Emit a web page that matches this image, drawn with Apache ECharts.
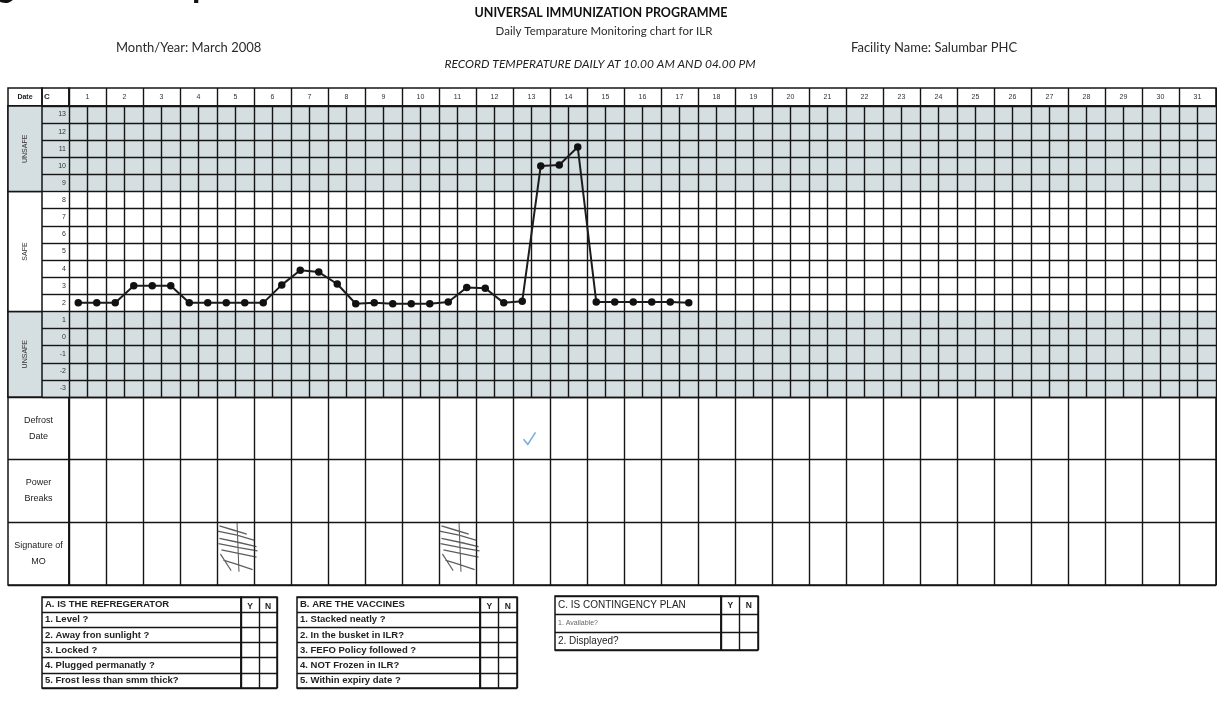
<!DOCTYPE html>
<html><head><meta charset="utf-8">
<script src="https://cdn.jsdelivr.net/npm/echarts@6/dist/echarts.min.js"></script>
<style>html,body{margin:0;padding:0;background:#fff}#c{width:1217px;height:711px}</style>
</head><body><div id="c"></div>
<script>
// ---------------- data ----------------
const DAYS = ['1','2','3','4','5','6','7','8','9','10','11','12','13','14','15','16','17','18','19','20','21','22','23','24','25','26','27','28','29','30','31'];
const TEMP_ROWS = ['-3','-2','-1','0','1','2','3','4','5','6','7','8','9','10','11','12','13'];
// readings per day (10.00 AM and 04.00 PM), days 1..17
const TEMP_AM = [2, 2, 3, 2, 2, 2, 3.9, 3.1, 2, 1.95, 2.05, 2.85, 2.1, 10.05, 2.05, 2.05, 2.05];
const TEMP_PM = [2, 3, 3, 2, 2, 3.05, 3.8, 1.95, 1.95, 1.95, 2.9, 2, 10, 11.1, 2.05, 2.05, 2];
const ZONES = [
  {label: 'UNSAFE', lo: -3, hi: 1, safe: false},
  {label: 'SAFE', lo: 2, hi: 8, safe: true},
  {label: 'UNSAFE', lo: 9, hi: 13, safe: false}
];
const LOG_ROWS = ['Defrost\nDate', 'Power\nBreaks', 'Signature of\nMO'];
const DEFROST_DAYS = ['13'];
const SIGNED_DAYS = ['5', '11'];
const TABLE_A = ['A. IS THE REFREGERATOR', '1. Level ?', '2. Away fron sunlight ?', '3. Locked ?', '4. Plugged permanatly ?', '5. Frost less than smm thick?'];
const TABLE_B = ['B. ARE THE VACCINES', '1. Stacked neatly ?', '2. In the busket in ILR?', '3. FEFO Policy followed ?', '4. NOT Frozen in ILR?', '5. Within expiry date ?'];
const TABLE_C = ['C. IS CONTINGENCY PLAN', '1. Available?', '2. Displayed?'];
const YN = ['Y', 'N'];

// ---------------- styles ----------------
const INK = '#151515';
const GRAY = '#d5dee0';
const LINE = {color: INK, width: 1.4};
const FONT = '"Liberation Sans", Arial, sans-serif';
const TFONT = 'Lato, "Open Sans", sans-serif';

function rowColor(v) {
  const n = Number(v);
  const z = ZONES.find(z => n >= z.lo && n <= z.hi);
  return z && z.safe ? '#ffffff' : GRAY;
}
const tempPoints = [];
TEMP_AM.forEach((v, i) => { tempPoints.push([i + 0.25, v]); tempPoints.push([i + 0.75, TEMP_PM[i]]); });

const B = {show: true, borderColor: INK, borderWidth: 1.5, backgroundColor: 'transparent'};
const grids = [
  {left: 69, top: 106, width: 1147, height: 291},  //0 main temps
  {left: 69, top: 88, width: 1147, height: 18},    //1 header days
  {left: 8, top: 88, width: 34, height: 18},       //2 Date header
  {left: 42, top: 88, width: 27, height: 18},      //3 C header
  {left: 8, top: 106, width: 34, height: 291},     //4 zones column
  {left: 42, top: 106, width: 27, height: 291},    //5 C column
  {left: 8, top: 397, width: 61, height: 188},     //6 log labels
  {left: 69, top: 397, width: 1147, height: 188},  //7 log cells
  {left: 42, top: 597, width: 199, height: 91},    //8 A text
  {left: 241, top: 597, width: 36, height: 91},    //9 A yn
  {left: 297, top: 597, width: 183, height: 91},   //10 B text
  {left: 480, top: 597, width: 37, height: 91},    //11 B yn
  {left: 555, top: 596, width: 166, height: 54},   //12 C text
  {left: 721, top: 596, width: 37, height: 54}     //13 C yn
].map(g => Object.assign({}, B, g));

const hiddenVal = (gridIndex, min, max) => ({gridIndex, type: 'value', min: min == null ? 0 : min, max: max == null ? 1 : max, show: false});
const noLine = {axisLine: {show: false}, axisTick: {show: false}};
const ynAxis = (gridIndex) => Object.assign({gridIndex, type: 'category', data: YN, position: 'top', boundaryGap: true,
  axisLabel: {inside: true, interval: 0, margin: 5, fontSize: 8.5, fontWeight: 'bold', color: '#222', fontFamily: FONT},
  splitLine: {show: true, interval: 0, lineStyle: LINE}}, noLine);
const rowAxis = (gridIndex, data, label) => Object.assign({gridIndex, type: 'category', data, inverse: true, boundaryGap: true,
  axisLabel: label || {show: false}, splitLine: {show: true, interval: 0, lineStyle: LINE}}, noLine);

const xAxis = [
  Object.assign({gridIndex: 0, type: 'value', min: 0, max: 31, interval: 1, axisLabel: {show: false},
    splitLine: {show: true, lineStyle: LINE}, minorTick: {show: false, splitNumber: 2},
    minorSplitLine: {show: true, lineStyle: LINE}}, noLine),                                          //0
  Object.assign({gridIndex: 1, type: 'category', data: DAYS, position: 'top', boundaryGap: true,
    axisLabel: {inside: true, interval: 0, margin: 6, fontSize: 7, color: '#333', fontFamily: FONT},
    splitLine: {show: true, interval: 0, lineStyle: LINE}}, noLine),                                  //1
  hiddenVal(4), hiddenVal(5), hiddenVal(6),                                                           //2,3,4
  Object.assign({gridIndex: 7, type: 'category', data: DAYS, boundaryGap: true, axisLabel: {show: false},
    splitLine: {show: true, interval: 0, lineStyle: LINE}}, noLine),                                  //5
  hiddenVal(8), ynAxis(9), hiddenVal(10), ynAxis(11), hiddenVal(12), ynAxis(13)                       //6..11
];

const tableLabel = {inside: true, interval: 0, margin: 3, fontSize: 9.5, fontWeight: 'bold', color: '#222', fontFamily: FONT};
const yAxis = [
  Object.assign({gridIndex: 0, type: 'category', data: TEMP_ROWS, boundaryGap: true,
    axisLabel: {interval: 0, margin: 3, fontSize: 7, color: '#333', fontFamily: FONT},
    splitLine: {show: true, interval: 0, lineStyle: LINE},
    splitArea: {show: true, interval: 0, areaStyle: {color: TEMP_ROWS.map(rowColor)}}}, noLine),     //0
  hiddenVal(0, -3.5, 13.5),                                                                           //1
  hiddenVal(1),                                                                                       //2
  hiddenVal(4, -3.5, 13.5),                                                                           //3
  Object.assign({gridIndex: 5, type: 'category', data: TEMP_ROWS, boundaryGap: true, axisLabel: {show: false},
    splitLine: {show: true, interval: 0, lineStyle: LINE},
    splitArea: {show: true, interval: 0, areaStyle: {color: TEMP_ROWS.map(rowColor)}}}, noLine),     //4
  rowAxis(6, LOG_ROWS, {inside: true, interval: 0, align: 'center', margin: 30.5, fontSize: 9, lineHeight: 16, color: '#222', fontFamily: FONT}), //5
  rowAxis(7, LOG_ROWS),                                                                               //6
  rowAxis(8, TABLE_A, tableLabel), rowAxis(9, TABLE_A),                                               //7,8
  rowAxis(10, TABLE_B, tableLabel), rowAxis(11, TABLE_B),                                             //9,10
  rowAxis(12, TABLE_C, {inside: true, interval: 0, margin: 3, fontFamily: FONT,
    formatter: (v, i) => i === 1 ? '{s|' + v + '}' : '{n|' + v + '}',
    rich: {n: {fontSize: 10, color: '#222', fontFamily: FONT}, s: {fontSize: 7, color: '#666', fontFamily: FONT}}}), //11
  rowAxis(13, TABLE_C)                                                                                //12
];

function renderZone(params, api) {
  const z = ZONES[params.dataIndex];
  const p1 = api.coord([0, api.value(2) + 0.5]);
  const p2 = api.coord([1, api.value(1) - 0.5]);
  const w = p2[0] - p1[0], h = p2[1] - p1[1];
  return {type: 'group', children: [
    {type: 'rect', shape: {x: p1[0], y: p1[1], width: w, height: h},
     style: {fill: z.safe ? '#ffffff' : GRAY, stroke: INK, lineWidth: 1.5}},
    {type: 'text', x: p1[0] + w / 2, y: p1[1] + h / 2, rotation: Math.PI / 2,
     style: {text: z.label, textAlign: 'center', textVerticalAlign: 'middle',
             font: '7px "Liberation Sans", Arial, sans-serif', fill: '#333'}}
  ]};
}

const SIG_PATH = 'path://M2,4 L16,8 L30,12 M0,9 L20,13 L38,18 M2,16 L22,20 L40,24 M1,21 L22,25 L41,28 M4,27 L24,31 L40,34 M6,37 L20,41 L36,46 M20,0 L22,48 M3,31 L14,47';

const option = {
  animation: false,
  grid: grids,
  xAxis, yAxis,
  series: [
    {type: 'custom', xAxisIndex: 2, yAxisIndex: 3, silent: true,
     data: ZONES.map(z => [0, z.lo, z.hi]), encode: {x: 0, y: [1, 2]}, renderItem: renderZone},
    {type: 'line', xAxisIndex: 0, yAxisIndex: 1, data: tempPoints, symbol: 'circle', symbolSize: 7.5,
     itemStyle: {color: '#111'}, lineStyle: {color: '#1c1c1c', width: 2}, z: 5, silent: true},
    {type: 'scatter', xAxisIndex: 5, yAxisIndex: 6, data: DEFROST_DAYS.map(d => [d, LOG_ROWS[0]]),
     symbol: 'path://M0,7 L5,12 L14,0', symbolSize: [12, 12], symbolOffset: [-2, 10],
     itemStyle: {color: 'transparent', borderColor: '#5b9bd5', borderWidth: 1.6}, silent: true},
    {type: 'scatter', xAxisIndex: 5, yAxisIndex: 6, data: SIGNED_DAYS.map(d => [d, LOG_ROWS[2]]),
     symbol: SIG_PATH, symbolSize: [40, 50], symbolOffset: [2, -7],
     itemStyle: {color: 'transparent', borderColor: '#333', borderWidth: 1.2}, silent: true}
  ],
  graphic: [
    {type: 'text', x: -31, y: -14, silent: true, style: {text: 'Figure 10: Temperature Chart', font: 'bold 34px ' + TFONT, fill: '#111', textVerticalAlign: 'middle'}},
    {type: 'text', x: 601, y: 13, silent: true, style: {text: 'UNIVERSAL IMMUNIZATION PROGRAMME', font: 'bold 12.5px ' + TFONT, fill: '#111', textAlign: 'center', textVerticalAlign: 'middle'}},
    {type: 'text', x: 604, y: 31, silent: true, style: {text: 'Daily Temparature Monitoring chart for ILR', font: '11.5px ' + TFONT, fill: '#2b2b2b', textAlign: 'center', textVerticalAlign: 'middle'}},
    {type: 'text', x: 116, y: 48, silent: true, style: {text: 'Month/Year: March 2008', font: '13px ' + TFONT, fill: '#2b2b2b', textAlign: 'left', textVerticalAlign: 'middle'}},
    {type: 'text', x: 851, y: 48, silent: true, style: {text: 'Facility Name: Salumbar PHC', font: '13px ' + TFONT, fill: '#2b2b2b', textAlign: 'left', textVerticalAlign: 'middle'}},
    {type: 'text', x: 600, y: 64, silent: true, style: {text: 'RECORD TEMPERATURE DAILY AT 10.00 AM AND 04.00 PM', font: 'italic 12px ' + TFONT, fill: '#222', textAlign: 'center', textVerticalAlign: 'middle'}},
    {type: 'text', x: 25, y: 97, silent: true, style: {text: 'Date', font: 'bold 7px ' + FONT, fill: '#222', textAlign: 'center', textVerticalAlign: 'middle'}},
    {type: 'text', x: 44, y: 97, silent: true, style: {text: 'C', font: 'bold 8px ' + FONT, fill: '#222', textAlign: 'left', textVerticalAlign: 'middle'}}
  ]
};
const chart = echarts.init(document.getElementById('c'));
chart.setOption(option);
</script>
</body></html>
